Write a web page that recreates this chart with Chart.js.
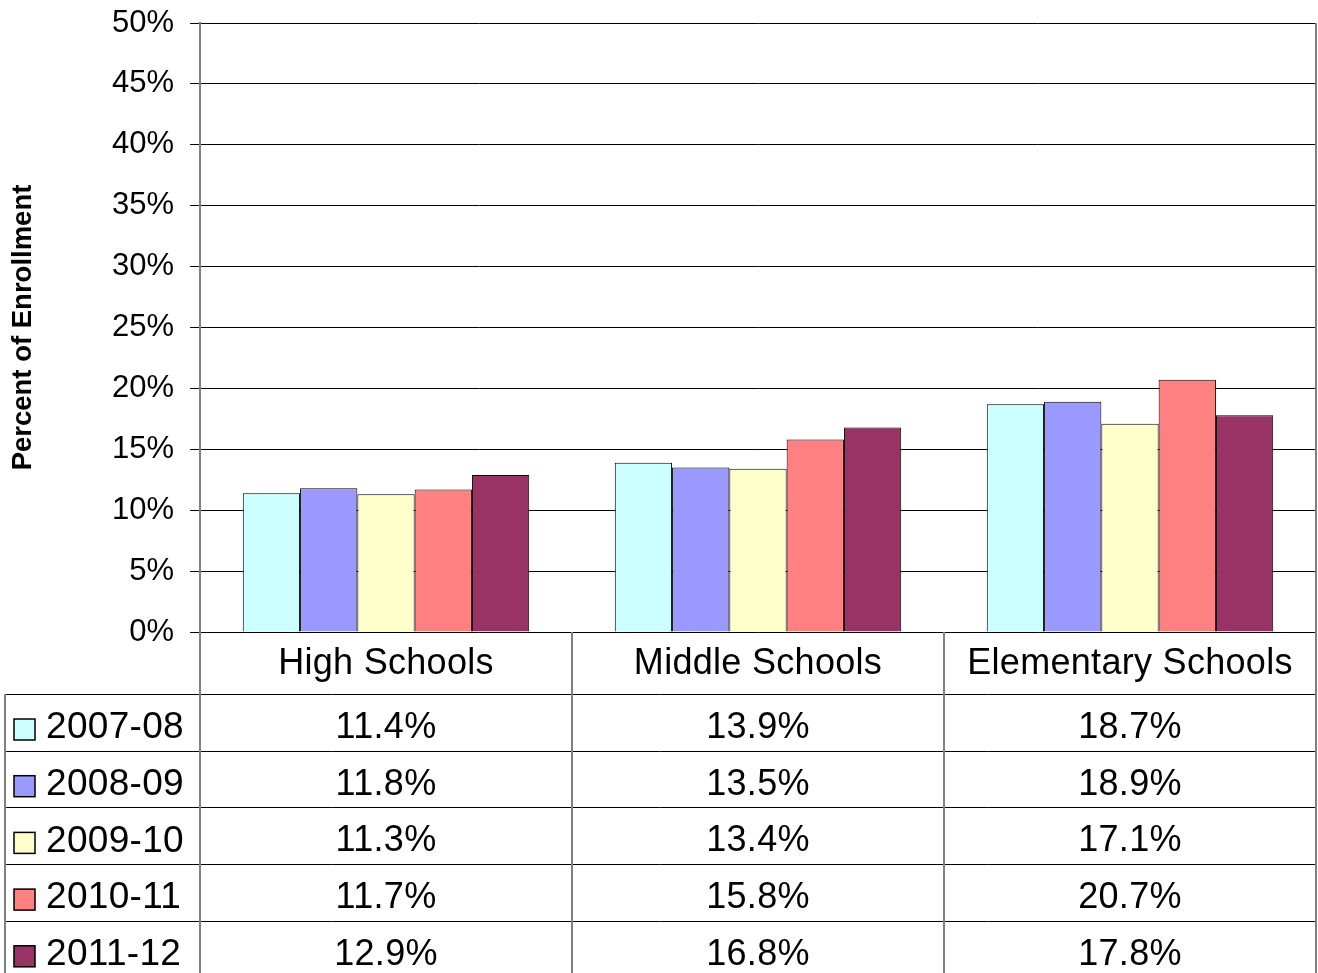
<!DOCTYPE html>
<html>
<head>
<meta charset="utf-8">
<script src="https://cdn.jsdelivr.net/npm/chart.js@4"></script>
<style>
    body { margin: 0; background: #fff; }
</style>
</head>
<body>
<canvas id="enrollChart" width="1318" height="973"></canvas>
<script>
const categories = ["High Schools", "Middle Schools", "Elementary Schools"];
const years = ["2007-08", "2008-09", "2009-10", "2010-11", "2011-12"];
const v2007 = [11.4, 13.9, 18.7];
const v2008 = [11.8, 13.5, 18.9];
const v2009 = [11.3, 13.4, 17.1];
const v2010 = [11.7, 15.8, 20.7];
const v2011 = [12.9, 16.8, 17.8];
const seriesValues = [v2007, v2008, v2009, v2010, v2011];
const seriesColors = ["#CCFFFF", "#9999FF", "#FFFFCC", "#FF8080", "#993366"];

const FONT = "'Liberation Sans', Arial, sans-serif";

// draws the data table (category row + one row per year) under the plot
const dataTablePlugin = {
    id: "dataTable",
    afterDraw(chart) {
        const ctx = chart.ctx;
        const area = chart.chartArea;
        const xs = chart.scales.x;
        const colW = (area.right - area.left) / categories.length;
        const headerH = 62;
        const rowH = 56.7;
        const tableLeft = 5;
        const rowsTop = area.bottom + headerH;

        ctx.save();
        // horizontal lines
        ctx.strokeStyle = "#000";
        ctx.lineWidth = 1;
        for (let i = 0; i < years.length; i++) {
            const y = Math.round(rowsTop + i * rowH) + 0.5;
            ctx.beginPath();
            ctx.moveTo(tableLeft, y);
            ctx.lineTo(area.right, y);
            ctx.stroke();
        }
        // vertical lines
        ctx.strokeStyle = "#808080";
        ctx.lineWidth = 2;
        for (let c = 0; c <= categories.length; c++) {
            const x = Math.round(area.left + c * colW);
            ctx.beginPath();
            ctx.moveTo(x, c === categories.length ? area.top : area.bottom);
            ctx.lineTo(x, chart.height);
            ctx.stroke();
        }
        ctx.beginPath();
        ctx.moveTo(tableLeft, rowsTop);
        ctx.lineTo(tableLeft, chart.height);
        ctx.stroke();

        ctx.fillStyle = "#000";
        ctx.font = "36px " + FONT;
        ctx.letterSpacing = "0.3px";
        ctx.textBaseline = "middle";
        ctx.textAlign = "center";
        categories.forEach((cat, c) => {
            ctx.fillText(cat, xs.getPixelForValue(c), area.bottom + 32);
        });
        years.forEach((yr, i) => {
            const cy = rowsTop + i * rowH + 34;
            ctx.font = "36px " + FONT;
            ctx.textAlign = "center";
            seriesValues[i].forEach((v, c) => {
                ctx.fillText(v.toFixed(1) + "%", xs.getPixelForValue(c), cy);
            });
            // legend key
            ctx.fillStyle = seriesColors[i];
            ctx.fillRect(14, cy - 9, 21, 21);
            ctx.strokeStyle = "#000";
            ctx.lineWidth = 1.5;
            ctx.strokeRect(14, cy - 9, 21, 21);
            ctx.fillStyle = "#000";
            ctx.textAlign = "left";
            ctx.font = "37px " + FONT;
            ctx.fillText(yr, 46, cy);
        });
        ctx.restore();
    },
};

new Chart(document.getElementById("enrollChart").getContext("2d"), {
    type: "bar",
    data: {
        labels: categories,
        datasets: years.map((yr, i) => ({
            label: yr,
            data: seriesValues[i],
            backgroundColor: seriesColors[i],
            borderColor: "#000",
            borderWidth: 1,
            categoryPercentage: 0.77,
            barPercentage: 1.0,
        })),
    },
    options: {
        responsive: false,
        animation: false,
        layout: { padding: { left: 0, right: 2, top: 23, bottom: 341 } },
        plugins: {
            legend: { display: false },
            tooltip: { enabled: false },
        },
        scales: {
            x: { display: false },
            y: {
                min: 0,
                max: 50,
                afterFit: (scale) => {
                    scale.width = 200;
                    scale.paddingTop = 0;
                    scale.paddingBottom = 0;
                },
                ticks: {
                    stepSize: 5,
                    color: "#000",
                    padding: 16,
                    font: { family: FONT, size: 31 },
                    callback: (v) => v + "%",
                },
                grid: { color: "#000", lineWidth: 1, tickLength: 10 },
                border: { color: "#808080", width: 2 },
                title: {
                    display: true,
                    text: "Percent of Enrollment",
                    color: "#000",
                    font: { family: FONT, size: 27.5, weight: "bold" },
                    padding: { top: 7, bottom: 0 },
                },
            },
        },
    },
    plugins: [dataTablePlugin],
});
</script>
</body>
</html>
